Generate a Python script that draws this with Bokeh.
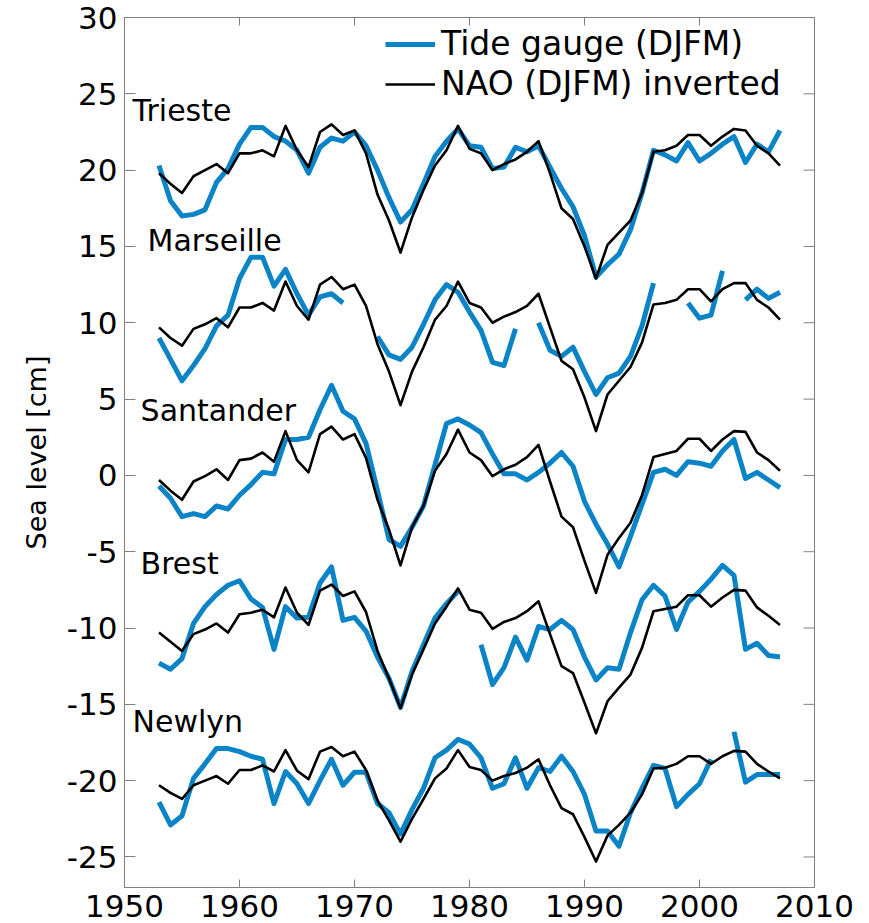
import numpy as np
from bokeh.plotting import figure
from bokeh.models import Range1d, FixedTicker, Legend, LegendItem, ColumnDataSource
from bokeh.core.properties import value
from bokeh.embed import file_html
from bokeh.resources import INLINE

nan = np.nan

# Winter (DJFM) means, 1953-2007; each station is shifted by its own offset
years = list(range(1953, 2008))

tg_trieste = [20.3, 18.0, 17.0, 17.1, 17.4, 19.2, 20.1, 21.7, 22.8, 22.8,
              22.2, 21.9, 21.3, 19.8, 21.5, 22.1, 21.9, 22.5, 21.6, 20.0,
              18.2, 16.6, 17.4, 19.1, 20.9, 21.9, 22.7, 21.6, 21.5, 20.1,
              20.2, 21.5, 21.2, 21.6, 20.2, 18.8, 17.6, 15.7, 13.0, 13.8,
              14.5, 16.1, 18.5, 21.3, 21.0, 20.6, 21.8, 20.6, 21.1, 21.7,
              22.2, 20.5, 21.7, 21.2, 22.6]
nao_trieste = [19.8, 19.1, 18.5, 19.6, 20.0, 20.4, 19.8, 21.1, 21.1, 21.3,
               20.9, 22.9, 21.3, 20.2, 22.5, 23.0, 22.3, 22.6, 21.1, 18.4,
               16.7, 14.6, 16.9, 18.7, 20.3, 21.3, 22.9, 21.4, 21.1, 20.0,
               20.4, 20.7, 21.2, 21.9, 19.8, 17.5, 16.8, 15.0, 12.9, 15.1,
               15.9, 16.7, 18.5, 21.2, 21.3, 21.6, 22.3, 22.3, 21.6, 22.2,
               22.7, 22.6, 21.6, 21.1, 20.3]

tg_marseille = [9.0, 7.6, 6.2, 7.2, 8.3, 9.8, 10.5, 12.9, 14.3, 14.3,
                12.4, 13.5, 11.9, 10.5, 11.7, 11.9, 11.3, nan, nan, 9.1,
                7.9, 7.6, 8.4, 9.9, 11.5, 12.5, 12.0, 10.7, 9.5, 7.4,
                7.2, 9.6, nan, 10.0, 8.2, 7.8, 8.4, 6.8, 5.3, 6.4,
                6.7, 7.8, 9.8, 12.6, nan, nan, 11.3, 10.3, 10.5, 13.4,
                nan, 11.5, 12.2, 11.6, 12.0]
nao_marseille = [9.7, 9.0, 8.5, 9.6, 9.9, 10.3, 9.7, 11.0, 11.0, 11.3,
                 10.8, 12.7, 11.1, 10.2, 12.5, 13.0, 12.2, 12.5, 11.1, 8.6,
                 6.8, 4.6, 6.8, 8.4, 10.2, 11.1, 12.7, 11.3, 11.0, 10.0,
                 10.4, 10.7, 11.1, 11.9, 9.7, 7.5, 6.95, 5.1, 2.9, 5.3,
                 6.2, 7.1, 8.7, 11.2, 11.3, 11.5, 12.2, 12.2, 11.4, 12.2,
                 12.6, 12.6, 11.5, 11.0, 10.2]

tg_santander = [-0.7, -1.5, -2.7, -2.5, -2.7, -2.0, -2.2, -1.3, -0.6, 0.2,
                0.1, 2.35, 2.35, 2.5, 4.3, 5.9, 4.2, 3.7, 2.1, -1.0,
                -4.2, -4.65, -3.4, -2.0, 0.7, 3.4, 3.7, 3.3, 2.8, 1.4,
                0.1, 0.1, -0.3, 0.2, 0.8, 1.5, 0.6, -1.7, -3.2, -4.5,
                -6.0, -4.0, -1.9, 0.2, 0.4, 0.0, 0.9, 0.8, 0.6, 1.6,
                2.35, -0.2, 0.2, -0.3, -0.8]
nao_santander = [-0.3, -1.0, -1.6, -0.4, -0.05, 0.4, -0.3, 1.0, 1.1, 1.5,
                 0.9, 2.9, 1.0, 0.2, 2.7, 3.2, 2.35, 2.7, 1.15, -1.6,
                 -3.55, -5.9, -3.4, -2.0, 0.3, 1.4, 3.0, 1.5, 1.0, -0.05,
                 0.4, 0.7, 1.2, 2.0, -0.4, -2.7, -3.4, -5.6, -7.7, -5.2,
                 -4.1, -3.1, -1.3, 1.2, 1.4, 1.6, 2.4, 2.4, 1.6, 2.35,
                 2.9, 2.85, 1.5, 1.0, 0.3]

tg_brest = [-12.3, -12.7, -12.0, -9.7, -8.6, -7.8, -7.2, -6.9, -8.1, -8.65,
            -11.4, -8.6, -9.35, -9.3, -7.05, -6.0, -9.5, -9.3, -10.2, -11.9,
            -13.3, -15.2, -12.85, -11.1, -9.35, -8.4, -7.6, nan, -11.1, -13.7,
            -12.6, -10.6, -12.1, -9.9, -10.1, -9.5, -10.1, -11.9, -13.4, -12.6,
            -12.7, -10.3, -8.15, -7.2, -7.9, -10.1, -8.3, -7.6, -6.8, -5.9,
            -6.55, -11.4, -11.0, -11.8, -11.9]
nao_brest = [-10.3, -10.9, -11.5, -10.4, -10.1, -9.7, -10.3, -9.1, -9.0, -8.8,
             -9.3, -7.35, -9.0, -9.8, -7.55, -7.15, -7.9, -7.6, -8.95, -11.5,
             -13.3, -15.25, -13.05, -11.4, -9.7, -8.6, -7.4, -8.8, -9.0, -10.05,
             -9.6, -9.35, -8.9, -8.25, -10.4, -12.5, -12.95, -14.9, -16.9, -14.8,
             -13.9, -13.05, -11.3, -8.9, -8.75, -8.6, -7.85, -7.85, -8.6, -8.0,
             -7.5, -7.55, -8.65, -9.2, -9.8]

tg_newlyn = [-21.4, -22.9, -22.3, -19.85, -18.9, -17.9, -17.9, -18.1, -18.4, -18.6,
             -21.5, -19.4, -20.2, -21.5, -20.0, -18.6, -20.3, -19.45, -19.45, -21.5,
             -22.1, -23.5, -21.9, -20.5, -18.5, -18.0, -17.3, -17.6, -18.5, -20.5,
             -20.2, -18.5, -20.5, -19.15, -19.4, -18.4, -19.4, -20.9, -23.3, -23.3,
             -24.3, -22.1, -20.5, -19.0, -19.2, -21.7, -20.9, -20.2, -18.6, nan,
             -16.8, -20.1, -19.6, -19.6, -19.6]
nao_newlyn = [-20.3, -20.8, -21.2, -20.3, -20.0, -19.7, -20.2, -19.3, -19.3, -19.0,
              -19.4, -18.0, -19.35, -19.9, -18.1, -17.8, -18.4, -18.1, -19.3, -21.3,
              -22.6, -24.0, -22.5, -21.2, -19.85, -19.2, -18.0, -19.1, -19.3, -20.0,
              -19.7, -19.5, -19.15, -18.6, -20.3, -21.8, -22.2, -23.7, -25.3, -23.6,
              -22.9, -22.1, -20.9, -19.2, -19.15, -18.9, -18.4, -18.4, -18.9, -18.4,
              -18.05, -18.1, -18.9, -19.4, -19.85]

stations = ["Trieste", "Marseille", "Santander", "Brest", "Newlyn"]
tide_gauge = [tg_trieste, tg_marseille, tg_santander, tg_brest, tg_newlyn]
nao_inverted = [nao_trieste, nao_marseille, nao_santander, nao_brest, nao_newlyn]

x_ticks = [1950, 1960, 1970, 1980, 1990, 2000, 2010]
y_ticks = [-25, -20, -15, -10, -5, 0, 5, 10, 15, 20, 25, 30]

# where each station name is written (left edge, vertical centre)
name_x = [1950.7, 1952.0, 1951.4, 1951.4, 1950.7]
name_y = [23.9, 15.4, 4.25, -5.8, -16.1]

BLUE = "#0b84c7"
FONT = "DejaVu Sans"
GREY = "#808080"
X0, X1, Y0, Y1 = 1950, 2010, -27, 30

p = figure(width=869, height=923, output_backend="svg", toolbar_location=None,
           x_range=Range1d(X0, X1), y_range=Range1d(Y0, Y1),
           min_border_left=124, min_border_right=55,
           min_border_top=17, min_border_bottom=36)
p.xgrid.visible = False
p.ygrid.visible = False
p.outline_line_color = GREY
p.outline_line_width = 1
p.background_fill_color = "white"
p.border_fill_color = "white"


def style_axis(ax, ticks, tick_len):
    ax.ticker = FixedTicker(ticks=ticks)
    ax.axis_line_color = None
    ax.major_tick_in = tick_len
    ax.major_tick_out = 0
    ax.major_tick_line_color = GREY
    ax.minor_tick_line_color = None
    ax.major_label_overrides = {t: str(t) for t in ticks}
    ax.major_label_text_font = FONT
    ax.major_label_text_font_size = "31px"
    ax.major_label_text_color = "black"
    ax.major_label_standoff = 7


style_axis(p.xaxis[0], x_ticks, 8)
style_axis(p.yaxis[0], y_ticks, 11)
p.yaxis.axis_label = "Sea level [cm]"
p.yaxis.axis_label_text_font = FONT
p.yaxis.axis_label_text_font_size = "27px"
p.yaxis.axis_label_text_font_style = "normal"
p.yaxis.axis_label_text_color = "black"
p.yaxis.axis_label_standoff = 12

# inward tick marks on the top and right edges of the box
p.ray(x=x_ticks, y=[Y1] * len(x_ticks), length=8, length_units="screen",
      angle=-np.pi / 2, line_color=GREY, line_width=1)
p.ray(x=[X1] * len(y_ticks), y=y_ticks, length=11, length_units="screen",
      angle=np.pi, line_color=GREY, line_width=1)

tg_renderers = []
nao_renderers = []
for tg, nao in zip(tide_gauge, nao_inverted):
    r1 = p.line(years, tg, line_color=BLUE, line_width=5, line_join="round")
    r2 = p.line(years, nao, line_color="black", line_width=2.6, line_join="round")
    tg_renderers.append(r1)
    nao_renderers.append(r2)

names = ColumnDataSource(dict(x=name_x, y=name_y, text=stations))
p.text(x="x", y="y", text="text", source=names, text_font=value(FONT),
       text_font_size=value("30px"), text_color="black",
       text_align="left", text_baseline="middle")

legend = Legend(items=[LegendItem(label="Tide gauge (DJFM)", renderers=[tg_renderers[0]]),
                       LegendItem(label="NAO (DJFM) inverted", renderers=[nao_renderers[0]])],
                location=(261, 784))
legend.label_text_font = FONT
legend.label_text_font_size = "33px"
legend.label_text_color = "black"
legend.glyph_width = 50
legend.glyph_height = 20
legend.label_standoff = 6
legend.spacing = 1
legend.padding = 0
legend.margin = 0
legend.border_line_color = None
legend.background_fill_alpha = 0
p.add_layout(legend)

open("out.html", "w").write(file_html(p, INLINE))
